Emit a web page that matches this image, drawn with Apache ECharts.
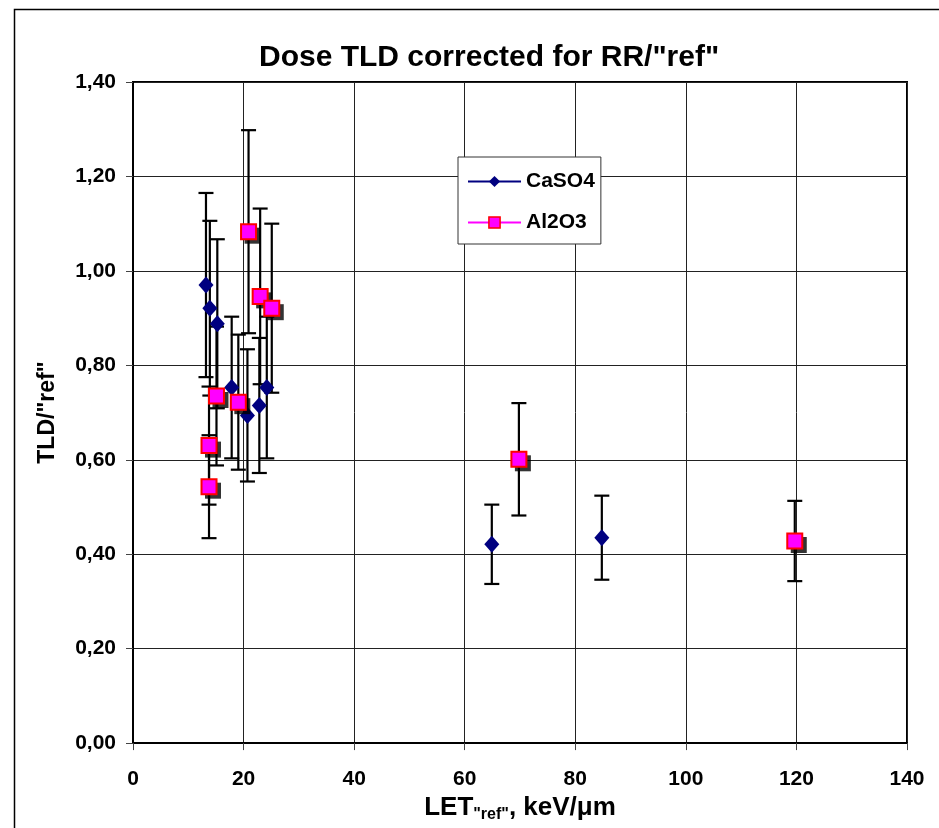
<!DOCTYPE html>
<html><head><meta charset="utf-8">
<script src="https://cdn.jsdelivr.net/npm/echarts@6/dist/echarts.min.js"></script>
<style>html,body{margin:0;padding:0;background:#fff}#c{width:939px;height:828px}</style>
</head><body><div id="c"></div>
<script>
// ---- data ----
const caso4X   = [13.2, 13.9, 15.25, 17.85, 20.7, 22.85, 24.2, 64.9, 84.8];
const caso4Y   = [0.970, 0.921, 0.888, 0.753, 0.694, 0.715, 0.753, 0.421, 0.435];
const caso4Err = [0.195, 0.185, 0.179, 0.150, 0.140, 0.143, 0.150, 0.084, 0.089];

const al2o3X   = [13.75, 13.75, 15.1, 19.05, 20.9, 23.0, 25.1, 69.8, 119.7];
const al2o3Y   = [0.630, 0.543, 0.735, 0.722, 1.083, 0.946, 0.921, 0.601, 0.428];
const al2o3Err = [0.125, 0.109, 0.147, 0.143, 0.215, 0.186, 0.179, 0.119, 0.085];

const seriesNames = ['CaSO4', 'Al2O3'];
const titleText = 'Dose TLD corrected for RR/"ref"';
const yTitle = 'TLD/"ref"';

const FONT = '"Liberation Sans", Arial, sans-serif';

function pts(xs, ys) { return xs.map((x, i) => [x, ys[i]]); }
function errs(xs, ys, es) { return xs.map((x, i) => [x, ys[i] - es[i], ys[i] + es[i]]); }

function errRender(params, api) {
  const x = api.value(0), lo = api.value(1), hi = api.value(2);
  const pLo = api.coord([x, lo]), pHi = api.coord([x, hi]);
  const h = 7.5;
  const st = { stroke: '#000', lineWidth: 2.2 };
  return { type: 'group', children: [
    { type: 'line', shape: { x1: pLo[0], y1: pLo[1], x2: pHi[0], y2: pHi[1] }, style: st },
    { type: 'line', shape: { x1: pHi[0] - h, y1: pHi[1], x2: pHi[0] + h, y2: pHi[1] }, style: st },
    { type: 'line', shape: { x1: pLo[0] - h, y1: pLo[1], x2: pLo[0] + h, y2: pLo[1] }, style: st }
  ]};
}

const chart = echarts.init(document.getElementById('c'), null, { renderer: 'canvas' });
chart.setOption({
  animation: false,
  backgroundColor: '#fff',
  title: {
    text: titleText, left: 254, top: 38,
    textStyle: { fontFamily: FONT, fontWeight: 'bold', fontSize: 30, color: '#000', lineHeight: 30 }
  },
  graphic: [{
    type: 'rect', left: 12, top: 7, silent: true, z: -10,
    shape: { x: 0, y: 0, width: 1000, height: 1000 },
    style: { fill: 'none', stroke: '#000', lineWidth: 1.5 }
  }],
  legend: {
    orient: 'vertical', left: 458, top: 157,
    padding: [14, 6, 11, 9], itemGap: 20,
    itemWidth: 53, itemHeight: 14,
    backgroundColor: '#fff', borderColor: '#333', borderWidth: 1,
    textStyle: { fontFamily: FONT, fontWeight: 'bold', fontSize: 21, lineHeight: 21, color: '#000' },
    data: [
      { name: seriesNames[0], lineStyle: { color: '#000080', width: 2, opacity: 1 },
        itemStyle: { color: '#000080', borderWidth: 0 } },
      { name: seriesNames[1], lineStyle: { color: '#FF00FF', width: 2, opacity: 1 },
        itemStyle: { color: '#FF00FF', borderColor: '#FF0000', borderWidth: 1.5 } }
    ]
  },
  grid: { left: 133, right: 32, top: 82, bottom: 84, show: true, borderColor: '#000', borderWidth: 2, backgroundColor: 'transparent' },
  xAxis: {
    type: 'value', min: 0, max: 140, interval: 20,
    axisLine: { show: true, lineStyle: { color: '#000', width: 2 } },
    axisTick: { show: true, length: 7, lineStyle: { color: '#444', width: 1 } },
    splitLine: { show: true, lineStyle: { color: '#222', width: 1 } },
    axisLabel: { margin: 26, fontFamily: FONT, fontWeight: 'bold', fontSize: 21, lineHeight: 21, color: '#000' },
    name: '{a|LET}{b|"ref"}{a|, keV/μm}',
    nameLocation: 'middle', nameGap: 46,
    nameTextStyle: {
      rich: {
        a: { fontFamily: FONT, fontWeight: 'bold', fontSize: 26, lineHeight: 30, color: '#000' },
        b: { fontFamily: FONT, fontWeight: 'bold', fontSize: 16, lineHeight: 16, color: '#000', verticalAlign: 'bottom' }
      }
    }
  },
  yAxis: {
    type: 'value', min: 0, max: 1.4, interval: 0.2,
    axisLine: { show: true, lineStyle: { color: '#000', width: 2 } },
    axisTick: { show: true, length: 7, lineStyle: { color: '#444', width: 1 } },
    splitLine: { show: true, lineStyle: { color: '#222', width: 1 } },
    axisLabel: { margin: 17, fontFamily: FONT, fontWeight: 'bold', fontSize: 21, lineHeight: 21, color: '#000',
      formatter: v => v.toFixed(2).replace('.', ',') },
    name: yTitle, nameLocation: 'middle', nameRotate: 90, nameGap: 74,
    nameTextStyle: { fontFamily: FONT, fontWeight: 'bold', fontSize: 23, color: '#000' }
  },
  series: [
    { type: 'custom', name: 'errCaSO4', renderItem: errRender, z: 1, silent: true,
      encode: { x: 0, y: [1, 2] }, data: errs(caso4X, caso4Y, caso4Err) },
    { type: 'custom', name: 'errAl2O3', renderItem: errRender, z: 1, silent: true,
      encode: { x: 0, y: [1, 2] }, data: errs(al2o3X, al2o3Y, al2o3Err) },
    { type: 'line', name: seriesNames[0], z: 3, data: pts(caso4X, caso4Y),
      symbol: 'diamond', symbolSize: [15, 17], showSymbol: true, showAllSymbol: true,
      lineStyle: { width: 0, opacity: 0 },
      itemStyle: { color: '#000080', borderWidth: 0 } },
    { type: 'scatter', name: 'shadowAl2O3', z: 4, silent: true, data: pts(al2o3X, al2o3Y),
      symbol: 'rect', symbolSize: 16, symbolOffset: [4, 4],
      itemStyle: { color: '#000', borderWidth: 0 } },
    { type: 'line', name: seriesNames[1], z: 5, data: pts(al2o3X, al2o3Y),
      symbol: 'rect', symbolSize: 15, showSymbol: true, showAllSymbol: true,
      lineStyle: { width: 0, opacity: 0 },
      itemStyle: { color: '#FF00FF', borderColor: '#FF0000', borderWidth: 2 } }
  ]
});
</script>
</body></html>
